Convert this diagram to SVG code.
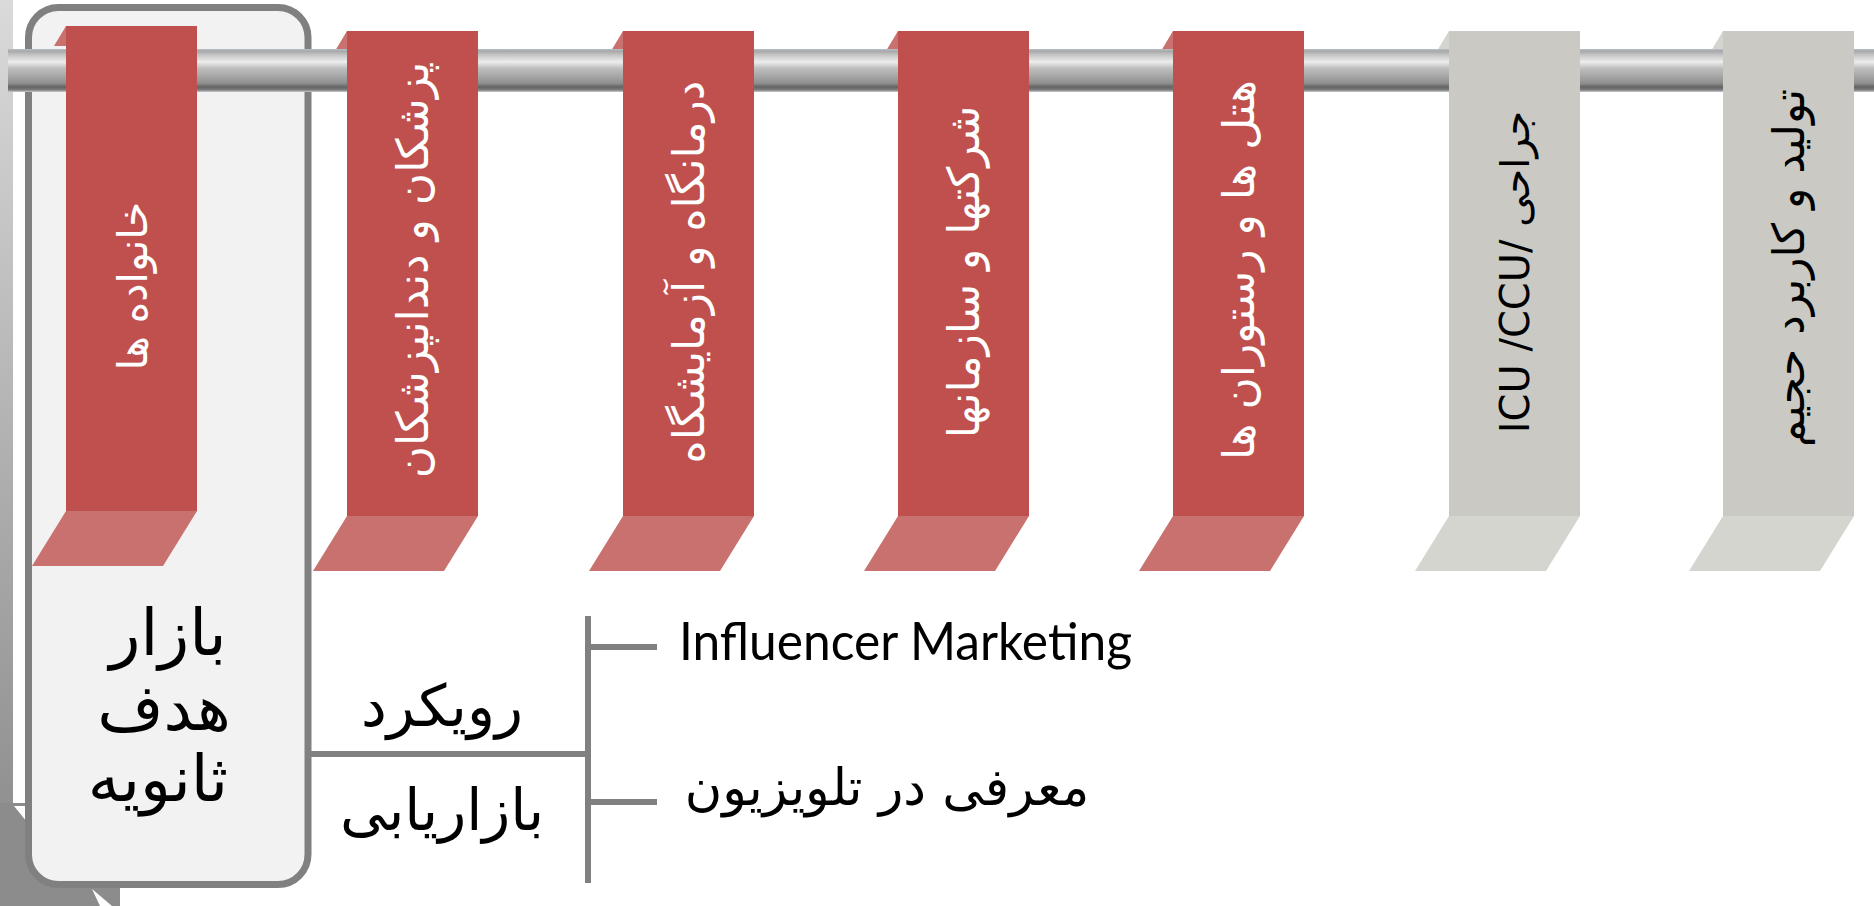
<svg xmlns="http://www.w3.org/2000/svg" width="1874" height="906" viewBox="0 0 1874 906">
<defs>
<linearGradient id="rodG" x1="0" y1="0" x2="0" y2="1">
<stop offset="0" stop-color="#b8c0c8"/>
<stop offset="0.05" stop-color="#a8a8a8"/>
<stop offset="0.15" stop-color="#c8c8c8"/>
<stop offset="0.3" stop-color="#ededed"/>
<stop offset="0.45" stop-color="#bebebe"/>
<stop offset="0.65" stop-color="#a4a4a4"/>
<stop offset="0.8" stop-color="#8e8e8e"/>
<stop offset="0.88" stop-color="#646464"/>
<stop offset="0.95" stop-color="#7c7c7c"/>
<stop offset="1" stop-color="#c6cdd3"/>
</linearGradient>
<linearGradient id="stripG" x1="0" y1="0" x2="0" y2="1">
<stop offset="0" stop-color="#dadada"/>
<stop offset="0.6" stop-color="#a8a8a8"/>
<stop offset="1" stop-color="#888888"/>
</linearGradient>
<style>
.rb{fill:#c0504d}
.rf{fill:#c9716e}
.gb{fill:#cac9c4}
.gf{fill:#d4d5cf}
.bt{font-family:"DejaVu Sans","Noto Sans",sans-serif;font-size:44px;text-anchor:middle}
.w{fill:#ffffff}
.k{fill:#000000}
.big{font-family:"DejaVu Sans","Noto Sans",sans-serif;font-size:64px;text-anchor:middle;fill:#000}
.mid{font-family:"DejaVu Sans","Noto Sans",sans-serif;font-size:58px;text-anchor:middle;fill:#000}
.con{stroke:#808080;stroke-width:6;fill:none}
</style>
</defs>
<rect width="1874" height="906" fill="#ffffff"/>
<g id="backdrop">
<rect x="0" y="0" width="13" height="906" fill="url(#stripG)"/>
<rect x="0" y="803" width="120" height="103" fill="#8c8c8c"/>
<polygon points="14,806 27,806 27,822" fill="#ffffff"/>
<polygon points="92,889 112,906 100,906" fill="#ffffff"/>
</g>
<g id="secondary-market-box">
<rect x="28.5" y="7.5" width="279.5" height="877" rx="30" fill="#f2f2f2" stroke="#808080" stroke-width="7"/>
<text class="big" x="168" y="655">بازار</text>
<text class="big" x="164" y="730">هدف</text>
<text class="big" x="158" y="801">ثانویه</text>
</g>
<g id="tabs">
<polygon class="rf" points="66,26 54,46 66,46"/>
<polygon class="rf" points="347,31 335,51 347,51"/>
<polygon class="rf" points="623,31 611,51 623,51"/>
<polygon class="rf" points="898,31 886,51 898,51"/>
<polygon class="rf" points="1173,31 1161,51 1173,51"/>
<polygon class="gf" points="1449,31 1437,51 1449,51"/>
<polygon class="gf" points="1723,31 1711,51 1723,51"/>
</g>
<g id="rod">
<rect x="8" y="49" width="1866" height="43" fill="url(#rodG)"/>
</g>
<g id="banner1">
<rect class="rb" x="66" y="26" width="131" height="485"/>
<polygon class="rf" points="66,511 197,511 163,566 32,566"/>
<text class="bt w" style="font-size:41px" transform="translate(147,286) rotate(-90)">خانواده ها</text>
</g>
<g id="banner2">
<rect class="rb" x="347" y="31" width="131" height="485"/>
<polygon class="rf" points="347,516 478,516 444,571 313,571"/>
<text class="bt w" transform="translate(428,270) rotate(-90)">پزشکان و دندانپزشکان</text>
</g>
<g id="banner3">
<rect class="rb" x="623" y="31" width="131" height="485"/>
<polygon class="rf" points="623,516 754,516 720,571 589,571"/>
<text class="bt w" transform="translate(704,272) rotate(-90)">درمانگاه و آزمایشگاه</text>
</g>
<g id="banner4">
<rect class="rb" x="898" y="31" width="131" height="485"/>
<polygon class="rf" points="898,516 1029,516 995,571 864,571"/>
<text class="bt w" transform="translate(979,272) rotate(-90)">شرکتها و سازمانها</text>
</g>
<g id="banner5">
<rect class="rb" x="1173" y="31" width="131" height="485"/>
<polygon class="rf" points="1173,516 1304,516 1270,571 1139,571"/>
<text class="bt w" transform="translate(1254,270) rotate(-90)">هتل ها و رستوران ها</text>
</g>
<g id="banner6">
<rect class="gb" x="1449" y="31" width="131" height="485"/>
<polygon class="gf" points="1449,516 1580,516 1546,571 1415,571"/>
<text class="bt k" style="font-size:40px" direction="ltr" transform="translate(1529,272) rotate(-90)">ICU /CCU/ جراحی</text>
</g>
<g id="banner7">
<rect class="gb" x="1723" y="31" width="131" height="485"/>
<polygon class="gf" points="1723,516 1854,516 1820,571 1689,571"/>
<text class="bt k" transform="translate(1804,268) rotate(-90)">تولید و کاربرد حجیم</text>
</g>
<g id="connectors">
<line class="con" x1="311" y1="754" x2="588" y2="754" stroke-width="7"/>
<line class="con" x1="588" y1="616" x2="588" y2="883"/>
<line class="con" x1="588" y1="647" x2="657" y2="647"/>
<line class="con" x1="588" y1="802" x2="657" y2="802"/>
</g>
<g id="approach-label">
<text class="mid" x="442" y="726">رویکرد</text>
<text class="mid" x="442" y="830">بازاریابی</text>
</g>
<g id="item-influencer">
<text x="679" y="660" font-family="Lato,'Liberation Sans',sans-serif" font-size="53" fill="#000" textLength="453" lengthAdjust="spacingAndGlyphs">Influencer Marketing</text>
</g>
<g id="item-tv">
<text x="887" y="805" class="mid" style="font-size:51px">معرفی در تلویزیون</text>
</g>
</svg>
